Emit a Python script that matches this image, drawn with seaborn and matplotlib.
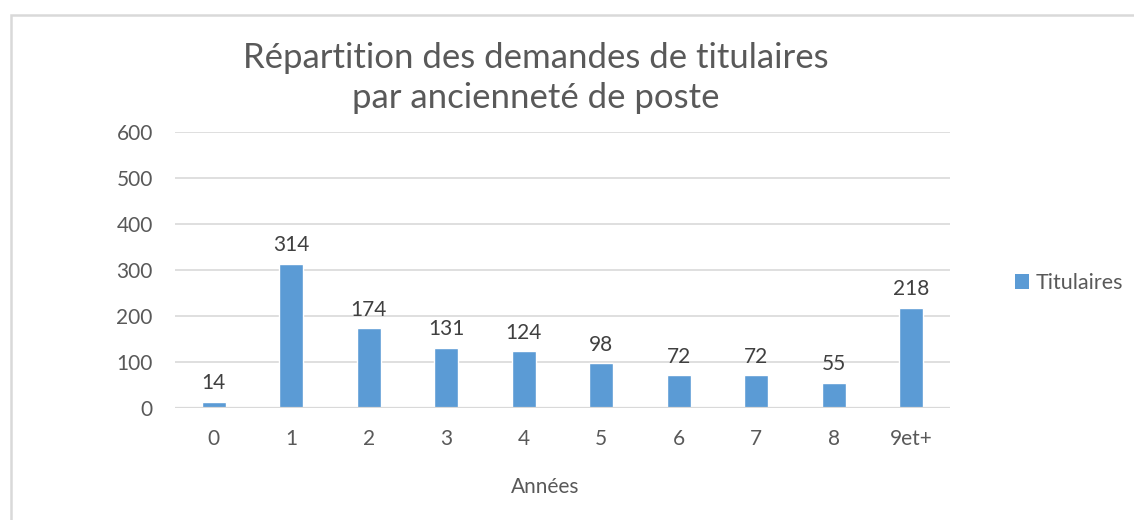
import numpy as np
import pandas as pd
import matplotlib
matplotlib.use("Agg")
import matplotlib.pyplot as plt
from matplotlib.patches import Rectangle, Patch
import seaborn as sns

# Data
annees = ["0", "1", "2", "3", "4", "5", "6", "7", "8", "9et+"]
titulaires = [14, 314, 174, 131, 124, 98, 72, 72, 55, 218]
y_ticks = [0, 100, 200, 300, 400, 500, 600]

title_text = "Répartition des demandes de titulaires\npar ancienneté de poste"
x_label = "Années"
series_name = "Titulaires"

bar_color = "#5B9BD5"
grid_color = "#D9D9D9"
text_gray = "#595959"
label_gray = "#404040"

sns.set_style("white")
plt.rcParams["font.family"] = ["Lato", "DejaVu Sans"]

df = pd.DataFrame({"Années": annees, "Titulaires": titulaires})

fig = plt.figure(figsize=(11.34, 5.2), dpi=100)
fig.patch.set_facecolor("white")

#Light gray chart-area border, open on the right and bottom like the crop
fig.patches.append(Rectangle((11 / 1134, -0.1), 1.2, (520 - 15) / 520 + 0.1,
                             transform=fig.transFigure, fill=False,
                             edgecolor=grid_color, linewidth=1.8))

ax = fig.add_axes([175 / 1134, 112 / 520, 775 / 1134, 276 / 520])
sns.barplot(data=df, x="Années", y="Titulaires", order=annees,
            color=bar_color, width=0.31, ax=ax, saturation=1)

ax.set_ylim(0, 600)
ax.set_yticks(y_ticks)
ax.yaxis.grid(True, color=grid_color, linewidth=1.2)
ax.set_axisbelow(True)
for side in ["top", "right", "left", "bottom"]:
    ax.spines[side].set_visible(False)
ax.axhline(0, color=grid_color, linewidth=1.6, zorder=1)

ax.tick_params(axis="both", length=0, labelsize=15, colors=text_gray)
ax.tick_params(axis="x", pad=15)
ax.tick_params(axis="y", pad=16)
ax.set_xlabel("")
ax.set_ylabel("")

ax.bar_label(ax.containers[0], labels=[str(v) for v in titulaires],
             padding=6, fontsize=15, color=label_gray)

fig.text(536 / 1134, (520 - 78) / 520, title_text, ha="center", va="center",
         fontsize=25, color=text_gray, linespacing=1.32)
fig.text(545 / 1134, (520 - 487) / 520, x_label, ha="center", va="center",
         fontsize=15, color=text_gray)

fig.legend(handles=[Patch(facecolor=bar_color, edgecolor="none", label=series_name)],
           loc="center left", bbox_to_anchor=(996 / 1134, (520 - 283) / 520),
           frameon=False, fontsize=15.5, handlelength=0.65, handleheight=0.65,
           handletextpad=0.3, labelcolor=text_gray)

fig.savefig("out.png", dpi=100, facecolor="white")
